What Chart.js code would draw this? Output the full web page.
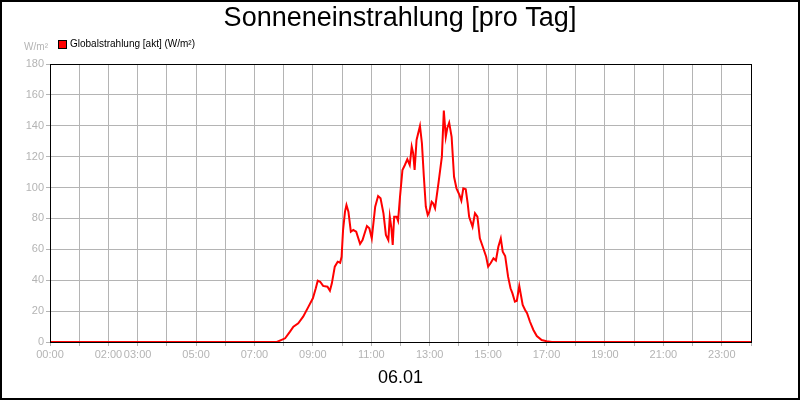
<!DOCTYPE html>
<html>
<head>
<meta charset="utf-8">
<script src="https://cdn.jsdelivr.net/npm/chart.js@4.4.1/dist/chart.umd.min.js"></script>
<style>
  html, body { margin: 0; padding: 0; background: #fff; }
  #wrap { width: 800px; height: 400px; }
</style>
</head>
<body>
<div id="wrap"><canvas id="chart" width="800" height="400"></canvas></div>
<script>
// Daten
const zeiten = ['00:00','07:46','08:03','08:13','08:20','08:30','08:40','08:51','09:00','09:06','09:10',
  '09:15','09:21','09:30','09:35','09:39','09:45','09:51','09:56','09:59','10:02','10:06','10:09',
  '10:13','10:18','10:23','10:29','10:37','10:42','10:51','10:56','11:01','11:08','11:14','11:19',
  '11:25','11:30','11:35','11:38','11:41','11:44','11:47','11:52','11:55','11:59','12:04','12:09',
  '12:14','12:19','12:23','12:26','12:29','12:33','12:40','12:44','12:48','12:52','12:56','12:59',
  '13:04','13:07','13:11','13:18','13:25','13:29','13:33','13:36','13:40','13:45','13:50','13:55',
  '14:01','14:05','14:09','14:14','14:18','14:21','14:28','14:33','14:38','14:43','14:49','14:56',
  '15:00','15:05','15:11','15:16','15:21','15:26','15:30','15:35','15:41','15:46','15:50','15:55',
  '15:59','16:04','16:11','16:16','16:20','16:26','16:33','16:40','16:50','17:00','17:11','24:00'];
const strahlung = [0,0,2.4,6.7,9.9,12.1,16.4,22.9,28.3,34.8,39.7,
  39,36.3,35.8,33.2,38,48.8,52,51.3,55.2,72.5,84.4,88.7,
  84.4,71.4,72.5,71.4,63.5,66,75.1,73.6,67.1,87.6,94.5,93,
  83.3,69.3,66,81.1,74.6,62.8,81.1,81.1,78.5,94.1,111.4,114.6,
  118.3,114.6,126.5,122.2,111.4,130.8,139.9,128.7,107,87.6,82.2,84,
  90.8,89.8,86.6,102.8,120,149.8,132.9,138.4,142,132.9,107,99.5,
  95.2,91.5,99.5,98.9,89.8,81.1,74.6,83.3,81.1,67.1,61.7,55.2,
  48.8,51,54.2,52.8,61.7,67.1,58.5,55.7,42.3,34.8,31.5,26.1,
  26.7,36.3,24,20.7,18.6,13.1,7.8,3.9,1.3,0.5,0,0];
const xBeschriftung = ['00:00','02:00','03:00','05:00','07:00','09:00','11:00','13:00','15:00','17:00','19:00','21:00','23:00'];
const yTicks = [0,20,40,60,80,100,120,140,160,180];

const FONT = 'Arial, "Liberation Sans", sans-serif';
const GRAU = '#b4b4b4';

function zuMinuten(t) {
  const [h, m] = t.split(':').map(Number);
  return h * 60 + m;
}

const punkte = zeiten.map((t, i) => ({ x: zuMinuten(t), y: strahlung[i] }));
const xTickMinuten = xBeschriftung.map(zuMinuten);

// Rahmen, Legende und Einheit
const extras = {
  id: 'extras',
  afterDraw(chart) {
    const { ctx, chartArea: a } = chart;
    ctx.save();
    ctx.strokeStyle = '#000';
    ctx.lineWidth = 1;
    ctx.strokeRect(Math.round(a.left) + 0.5, Math.round(a.top) + 0.5,
      Math.round(a.right - a.left), Math.round(a.bottom - a.top));

    // Legende
    const ds = chart.data.datasets[0];
    ctx.fillStyle = ds.borderColor;
    ctx.fillRect(58, 40, 8, 8);
    ctx.strokeStyle = '#000';
    ctx.strokeRect(58.5, 40.5, 8, 8);
    ctx.fillStyle = '#000';
    ctx.font = '10px ' + FONT;
    ctx.textBaseline = 'middle';
    ctx.textAlign = 'left';
    ctx.fillText(ds.label, 70, 44.5);

    // Einheit
    ctx.fillStyle = GRAU;
    ctx.textAlign = 'right';
    ctx.fillText('W/m²', 48, 47.5);

    // Außenrahmen
    ctx.lineWidth = 2;
    ctx.strokeStyle = '#000';
    ctx.strokeRect(1, 1, chart.width - 2, chart.height - 2);
    ctx.restore();
  }
};

new Chart(document.getElementById('chart').getContext('2d'), {
  type: 'line',
  data: {
    datasets: [{
      label: 'Globalstrahlung [akt] (W/m²)',
      data: punkte,
      borderColor: '#ff0000',
      backgroundColor: '#ff0000',
      borderWidth: 2,
      pointRadius: 0,
      tension: 0,
      fill: false
    }]
  },
  options: {
    responsive: false,
    animation: false,
    devicePixelRatio: 1,
    layout: { padding: 0 },
    plugins: {
      legend: { display: false },
      tooltip: { enabled: false },
      title: {
        display: true,
        text: 'Sonneneinstrahlung [pro Tag]',
        color: '#000',
        font: { family: FONT, size: 27, weight: 'normal', lineHeight: 1.2 },
        padding: { top: 2, bottom: 29.6 }
      }
    },
    scales: {
      x: {
        type: 'linear',
        min: 0,
        max: 1440,
        afterBuildTicks(scale) {
          const t = [];
          for (let m = 0; m <= 1440; m += 60) t.push({ value: m });
          scale.ticks = t;
        },
        afterFit(scale) { scale.height = 58; },
        grid: { color: GRAU, tickColor: GRAU, tickLength: 4, drawOnChartArea: true },
        border: { color: '#000' },
        ticks: {
          color: GRAU,
          font: { family: FONT, size: 11 },
          padding: 2,
          maxRotation: 0,
          autoSkip: false,
          callback(v) {
            const i = xTickMinuten.indexOf(v);
            return i >= 0 ? xBeschriftung[i] : '';
          }
        },
        title: {
          display: true,
          text: '06.01',
          color: '#000',
          font: { family: FONT, size: 18, lineHeight: 1.2 },
          padding: { top: 0, bottom: 11 }
        }
      },
      y: {
        min: 0,
        max: 180,
        afterBuildTicks(scale) { scale.ticks = yTicks.map(v => ({ value: v })); },
        afterFit(scale) { scale.width = 50; },
        grid: { color: GRAU, tickColor: GRAU, tickLength: 4 },
        border: { color: '#000' },
        ticks: {
          color: GRAU,
          font: { family: FONT, size: 11 },
          padding: 2
        }
      },
      // leere Achse rechts, nur als Abstand
      rechts: {
        position: 'right',
        display: true,
        grid: { display: false, drawTicks: false },
        border: { display: false },
        ticks: { display: false },
        afterFit(scale) { scale.width = 49; }
      }
    }
  },
  plugins: [extras]
});
</script>
</body>
</html>
